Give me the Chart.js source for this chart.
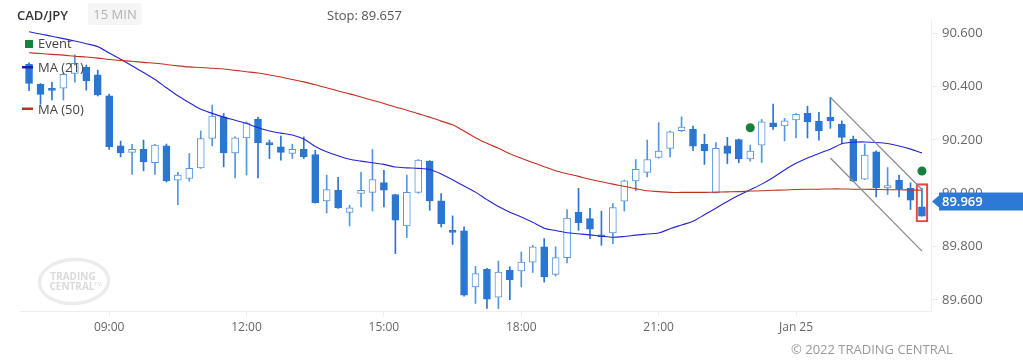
<!DOCTYPE html>
<html><head><meta charset="utf-8">
<script src="https://cdn.jsdelivr.net/npm/chart.js@4.4.1/dist/chart.umd.min.js"></script>
<style>
html,body{margin:0;padding:0;background:#fff;width:1023px;height:361px;overflow:hidden;font-family:"Open Sans",sans-serif;}
#wrap{position:relative;width:1023px;height:361px;}
canvas{position:absolute;left:0;top:0;}
.t{position:absolute;white-space:nowrap;font-size:13px;line-height:16px;}
</style></head><body>
<div id="wrap">
<canvas id="c" width="1023" height="361"></canvas>
<div class="t" style="left:17px;top:7px;color:#333;font-weight:600;">CAD/JPY</div>
<div class="t" style="left:88px;top:3px;width:54px;height:22px;background:#f5f5f5;border-radius:3px;color:#b3b3b3;line-height:22px;text-align:center;">15 MIN</div>
<div class="t" style="left:327px;top:7px;color:#555;">Stop: 89.657</div>
<div class="t" style="left:791px;top:341px;color:#999;font-size:13px;">© 2022 TRADING CENTRAL</div>
</div>
<script>
// ---- data ----
const xTickIndex = [7, 19, 31, 43, 55, 67];
const xTickLabels = ['09:00', '12:00', '15:00', '18:00', '21:00', 'Jan 25'];
const yTickValues = [89.6, 89.8, 90.0, 90.2, 90.4, 90.6];

const open = [90.483,90.408,90.387,90.393,90.449,90.471,90.443,90.365,90.177,90.153,
90.164,90.114,90.177,90.049,90.055,90.095,90.205,90.286,90.151,90.207,
90.278,90.184,90.174,90.149,90.164,90.145,89.971,90.011,89.928,89.999,
90.003,90.040,89.995,89.877,90.003,90.120,89.971,89.859,89.859,89.649,
89.715,89.611,89.711,89.709,89.742,89.799,89.696,89.759,89.928,89.905,
89.843,89.851,89.970,90.046,90.078,90.134,90.168,90.234,90.240,90.183,
90.001,90.177,90.201,90.128,90.180,90.264,90.252,90.274,90.299,90.270,
90.284,90.259,90.203,90.053,90.155,90.020,90.049,90.018,89.949];
const high = [90.488,90.411,90.415,90.449,90.518,90.480,90.461,90.371,90.195,90.183,
90.199,90.183,90.184,90.078,90.149,90.233,90.330,90.299,90.211,90.267,
90.285,90.199,90.214,90.183,90.211,90.161,90.068,90.059,89.955,90.078,
90.164,90.086,89.996,90.068,90.126,90.122,89.999,89.915,89.874,89.726,
89.719,89.746,89.724,89.780,89.805,89.830,89.799,89.939,90.018,89.943,
89.933,89.961,90.049,90.126,90.199,90.264,90.233,90.286,90.251,90.221,
90.190,90.209,90.203,90.180,90.276,90.334,90.280,90.298,90.326,90.303,
90.359,90.271,90.214,90.184,90.159,90.096,90.068,90.039,90.018];
const low = [90.384,90.333,90.349,90.349,90.416,90.386,90.364,90.164,90.136,90.070,
90.084,90.070,90.042,89.957,90.045,90.093,90.177,90.099,90.057,90.068,
90.057,90.130,90.124,90.130,90.130,89.963,89.926,89.943,89.877,89.949,
89.933,89.949,89.774,89.834,90.000,89.936,89.874,89.808,89.614,89.587,
89.568,89.568,89.601,89.649,89.703,89.667,89.690,89.739,89.861,89.830,
89.805,89.811,89.933,90.009,90.061,90.131,90.136,90.230,90.159,90.108,
90.001,90.111,90.114,90.120,90.115,90.239,90.196,90.207,90.207,90.199,
90.243,90.186,90.043,90.051,89.986,89.995,89.986,89.939,89.914];
const close = [90.411,90.370,90.385,90.445,90.486,90.421,90.368,90.174,90.151,90.164,
90.117,90.180,90.046,90.068,90.093,90.205,90.289,90.151,90.207,90.264,
90.189,90.182,90.153,90.164,90.136,89.965,90.014,89.945,89.945,90.011,
90.051,90.011,89.899,90.003,90.124,89.971,89.886,89.853,89.618,89.699,
89.603,89.705,89.676,89.742,89.799,89.686,89.759,89.907,89.890,89.865,
89.837,89.946,90.046,90.089,90.126,90.158,90.230,90.248,90.176,90.158,
90.168,90.149,90.128,90.158,90.267,90.249,90.271,90.295,90.267,90.234,
90.271,90.209,90.045,90.143,90.021,90.029,90.015,89.974,89.914];

const ma21 = [90.605,90.596,90.588,90.579,90.570,90.560,90.549,90.525,90.502,90.477,
90.452,90.426,90.395,90.365,90.339,90.314,90.299,90.285,90.273,90.261,
90.246,90.233,90.225,90.218,90.203,90.175,90.155,90.140,90.127,90.120,
90.114,90.108,90.098,90.095,90.093,90.089,90.072,90.050,90.027,90.004,
89.976,89.950,89.929,89.911,89.891,89.869,89.860,89.852,89.848,89.844,
89.839,89.835,89.838,89.843,89.847,89.851,89.867,89.881,89.895,89.919,
89.944,89.969,89.992,90.013,90.034,90.059,90.087,90.112,90.132,90.149,
90.165,90.185,90.191,90.192,90.190,90.186,90.177,90.165,90.151];
const ma50 = [90.526,90.523,90.520,90.517,90.513,90.510,90.506,90.501,90.497,90.494,
90.490,90.487,90.482,90.477,90.473,90.471,90.468,90.465,90.460,90.455,
90.450,90.443,90.435,90.426,90.417,90.406,90.395,90.383,90.372,90.360,
90.348,90.336,90.323,90.311,90.298,90.285,90.270,90.256,90.233,90.208,
90.187,90.168,90.148,90.131,90.115,90.099,90.084,90.073,90.063,90.052,
90.043,90.034,90.026,90.017,90.009,90.006,90.003,90.003,90.003,90.003,
90.004,90.005,90.006,90.008,90.009,90.011,90.012,90.014,90.015,90.015,
90.016,90.016,90.015,90.015,90.014,90.013,90.013,90.012,90.011];

const eventIndex = [63, 78];
const eventValue = [90.245, 90.083];
const channelIndex = [70, 78];
const channelUpper = [90.359, 90.014];
const channelLower = [90.132, 89.783];
const boxIndex = 78;
const boxRange = [89.892, 90.036];
const lastPrice = 89.969;

// ---- colours ----
const BEAR = '#2a76d1';
const BULL_LINE = '#5596e0';
const isBull = i => close[i] >= open[i];

const pts = arr => arr.map((v, i) => ({x: i, y: v}));

const legendPlugin = {
  id: 'legendAndExtras',
  beforeDatasetsDraw(chart) {
    const ctx = chart.ctx;
    ctx.save();
    // watermark logo
    ctx.strokeStyle = '#ececec';
    ctx.lineWidth = 3.5;
    ctx.beginPath();
    ctx.ellipse(74, 281.5, 34.5, 22, -0.05, 0, Math.PI * 2);
    ctx.stroke();
    ctx.fillStyle = '#dadada';
    ctx.font = 'bold 10px "Open Sans"';
    ctx.textAlign = 'center';
    ctx.textBaseline = 'middle';
    ctx.fillText('TRADING', 73, 277.5);
    ctx.fillText('CENTRAL', 72, 287);
    ctx.font = '5px "Open Sans"';
    ctx.fillText('TM', 98, 285);
    ctx.restore();
  },
  afterDraw(chart) {
    const ctx = chart.ctx;
    const ys = chart.scales.y;
    ctx.save();
    // legend
    ctx.font = '13px "Open Sans"';
    ctx.textBaseline = 'middle';
    ctx.textAlign = 'left';
    ctx.fillStyle = '#17803d';
    ctx.fillRect(25, 40, 8, 8);
    ctx.fillStyle = '#1b1bb8';
    ctx.fillRect(22, 66, 11, 2.5);
    ctx.fillStyle = '#c0301e';
    ctx.fillRect(22, 107.5, 11, 2.5);
    ctx.fillStyle = '#444';
    ctx.fillText('Event', 38, 44.5);
    ctx.fillText('MA (21)', 38, 68.5);
    ctx.fillText('MA (50)', 38, 110);
    // last price tag
    const y = ys.getPixelForValue(lastPrice);
    const x0 = chart.chartArea.right + 1;
    ctx.fillStyle = '#2c7ad6';
    ctx.beginPath();
    ctx.moveTo(x0, y);
    ctx.lineTo(x0 + 7, y - 6);
    ctx.lineTo(x0 + 7, y - 9);
    ctx.lineTo(1023, y - 9);
    ctx.lineTo(1023, y + 9);
    ctx.lineTo(x0 + 7, y + 9);
    ctx.lineTo(x0 + 7, y + 6);
    ctx.closePath();
    ctx.fill();
    ctx.fillStyle = '#ffffff';
    ctx.font = '600 13px "Open Sans"';
    ctx.fillText(lastPrice.toFixed(3), 942, y + 0.5);
    ctx.restore();
  }
};

new Chart(document.getElementById('c'), {
  data: {
    datasets: [
      {
        type: 'bar', order: 5, grouped: false, barThickness: 1,
        data: low.map((l, i) => ({x: i, y: [l, high[i]]})),
        backgroundColor: c => isBull(c.dataIndex) ? BULL_LINE : BEAR,
        borderWidth: 0
      },
      {
        type: 'bar', order: 4, grouped: false, barThickness: 7, minBarLength: 2,
        data: open.map((o, i) => ({x: i, y: [o, close[i]]})),
        backgroundColor: c => isBull(c.dataIndex) ? '#ffffff' : BEAR,
        borderColor: c => isBull(c.dataIndex) ? BULL_LINE : BEAR,
        borderWidth: 1, borderSkipped: false
      },
      {
        type: 'bar', order: 3, grouped: false, barThickness: 12,
        data: [{x: boxIndex, y: boxRange}],
        backgroundColor: 'rgba(0,0,0,0)',
        borderColor: 'rgba(228,48,48,0.9)', borderWidth: 1.5, borderSkipped: false
      },
      {
        type: 'line', order: 2, data: pts(ma50),
        borderColor: '#c0301e', borderWidth: 1.1, pointRadius: 0, tension: 0.3
      },
      {
        type: 'line', order: 2, data: pts(ma21),
        borderColor: '#2525cc', borderWidth: 1.1, pointRadius: 0, tension: 0.3
      },
      {
        type: 'line', order: 1,
        data: channelIndex.map((x, i) => ({x, y: channelUpper[i]})),
        borderColor: '#8c8c8c', borderWidth: 1.3, pointRadius: 0
      },
      {
        type: 'line', order: 1,
        data: channelIndex.map((x, i) => ({x, y: channelLower[i]})),
        borderColor: '#8c8c8c', borderWidth: 1.3, pointRadius: 0
      },
      {
        type: 'line', order: 0, showLine: false,
        data: eventIndex.map((x, i) => ({x, y: eventValue[i]})),
        pointRadius: 4.5, pointBackgroundColor: '#17803d', pointBorderWidth: 0
      }
    ]
  },
  options: {
    responsive: false,
    animation: false,
    layout: {padding: {left: 20, top: 20, right: 0, bottom: 0}},
    plugins: {legend: {display: false}, tooltip: {enabled: false}},
    scales: {
      x: {
        type: 'linear', min: -0.79, max: 78.79, offset: false,
        afterFit: s => { s.height = 50; },
        afterBuildTicks: s => { s.ticks = xTickIndex.map(v => ({value: v})); },
        grid: {drawOnChartArea: false, tickLength: 6, color: '#eeeeee', offset: false},
        border: {color: '#eeeeee'},
        ticks: {
          autoSkip: false, maxRotation: 0, padding: 3,
          color: '#666', font: {family: 'Open Sans', size: 12},
          callback: v => xTickLabels[xTickIndex.indexOf(v)]
        }
      },
      y: {
        position: 'right', min: 89.5588, max: 90.6487,
        afterFit: s => { s.width = 92; },
        afterBuildTicks: s => { s.ticks = yTickValues.map(v => ({value: v})); },
        grid: {drawOnChartArea: false, tickLength: 7, color: '#eeeeee'},
        border: {color: '#eeeeee'},
        ticks: {
          padding: 4, color: '#666', font: {family: 'Open Sans', size: 13},
          callback: v => Number(v).toFixed(3)
        }
      }
    }
  },
  plugins: [legendPlugin]
});
</script>
</body></html>
